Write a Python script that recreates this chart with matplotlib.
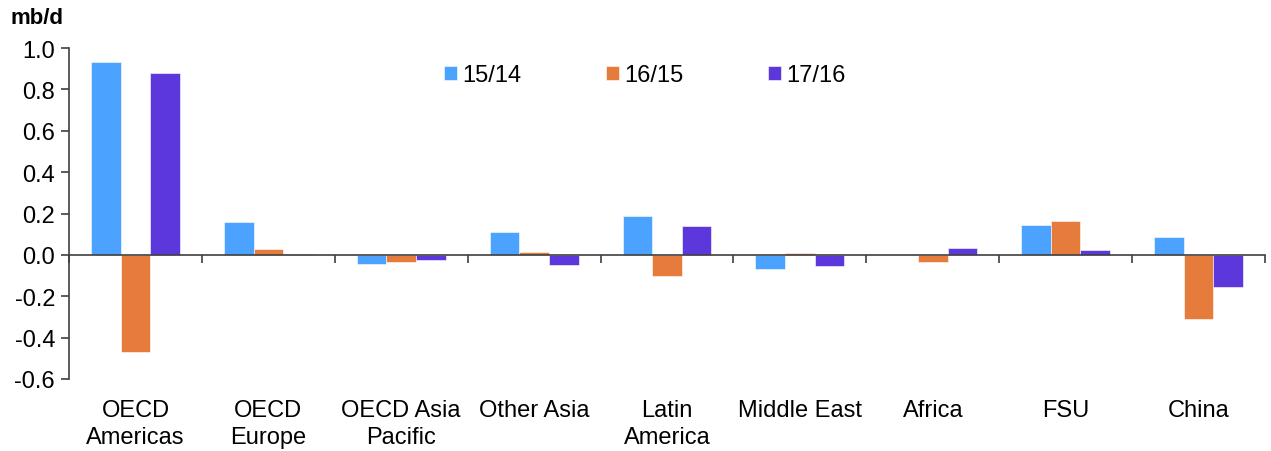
import numpy as np
import matplotlib.pyplot as plt

plt.rcParams['font.family'] = ['Liberation Sans', 'DejaVu Sans']

regions = ['OECD\nAmericas', 'OECD\nEurope', 'OECD Asia\nPacific', 'Other Asia',
           'Latin\nAmerica', 'Middle East', 'Africa', 'FSU', 'China']
series = ['15/14', '16/15', '17/16']
v_15_14 = [0.93, 0.16, -0.045, 0.11, 0.19, -0.07, 0.0, 0.145, 0.085]
v_16_15 = [-0.47, 0.03, -0.035, 0.016, -0.10, 0.008, -0.035, 0.165, -0.31]
v_17_16 = [0.88, 0.005, -0.025, -0.05, 0.14, -0.055, 0.035, 0.024, -0.155]
colors = ['#4ba3ff', '#e67c3c', '#5b37dc']

fig = plt.figure(figsize=(12.71, 4.52), dpi=100)
ax = fig.add_axes([69 / 1271, 1 - 380 / 452, (1265 - 69) / 1271, (380 - 49) / 452])

x = np.arange(len(regions))
w = 0.223
for i, (vals, name, col) in enumerate(zip([v_15_14, v_16_15, v_17_16], series, colors)):
    ax.bar(x + (i - 1) * w, vals, width=w, color=col, label=name,
           edgecolor='white', linewidth=0.4, zorder=2)

ax.set_xlim(-0.5, len(regions) - 0.5)
ax.set_ylim(-0.6, 1.0)
yt = np.arange(-0.6, 1.01, 0.2)
ax.set_yticks(yt)
ax.set_yticklabels([f'{t:.1f}' for t in yt], fontsize=17)

for s in ['top', 'right']:
    ax.spines[s].set_visible(False)
ax.spines['bottom'].set_position(('data', 0))
for s in ['bottom', 'left']:
    ax.spines[s].set_color('#404040')
    ax.spines[s].set_linewidth(1.2)
ax.spines['bottom'].set_zorder(3)

ax.set_xticks(np.arange(-0.5, len(regions), 1.0))
ax.set_xticklabels([])
ax.tick_params(axis='x', direction='out', length=6, width=1.2, color='#404040')
ax.tick_params(axis='y', direction='out', length=6, width=1.2, color='#404040', pad=4)

trans = ax.get_xaxis_transform()
for xi, lab in zip(x, regions):
    ax.text(xi, -0.06, lab, transform=trans, ha='center', va='top',
            fontsize=17, linespacing=1.28)

fig.text(10 / 1271, 1 - 18 / 452, 'mb/d', fontsize=16, fontweight='bold',
         ha='left', va='center')

ax.legend(loc='center left', bbox_to_anchor=(444 / 1271, 1 - 76 / 452),
          bbox_transform=fig.transFigure, ncol=3, frameon=False, fontsize=17,
          handlelength=0.54, handleheight=0.54, handletextpad=0.22,
          columnspacing=3.6, borderpad=0, borderaxespad=0)

plt.savefig('out.png', dpi=100)
